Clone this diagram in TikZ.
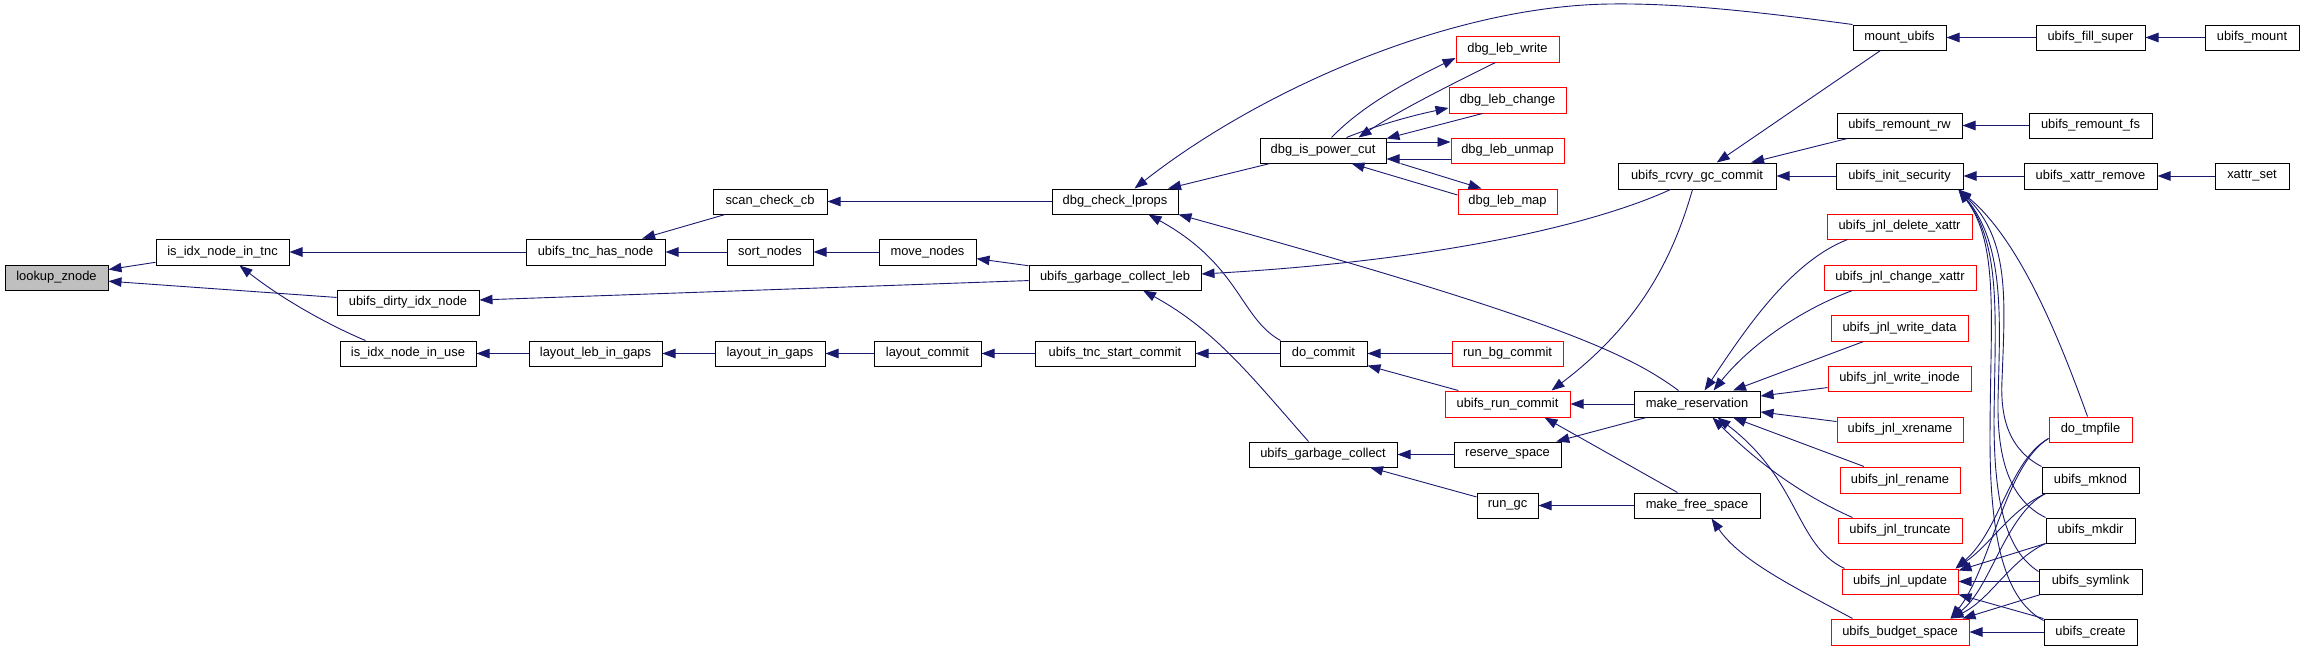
\documentclass[tikz,border=0pt]{standalone}
\usepackage{fontspec}
\newfontfamily\gfont{Liberation Sans}
\usetikzlibrary{arrows.meta}
\definecolor{edgeblue}{HTML}{191970}
\definecolor{rootgrey}{HTML}{BFBFBF}
\newcommand\gnode[7]{%
  \pgfmathsetmacro\gnx{(#3+#5)/2}\pgfmathsetmacro\gny{(#4+#6)/2}%
  \pgfmathsetmacro\gnw{#5-#3}\pgfmathsetmacro\gnh{#6-#4}%
  \node[#1,minimum width=\gnw pt,minimum height=\gnh pt] (#2) at (\gnx,\gny) {#7};}
\tikzset{
  box/.style={draw=black, fill=white, line width=1pt, inner sep=0pt,
    font=\gfont\fontsize{12.9}{14}\selectfont},
  redbox/.style={box, draw=red},
  rootbox/.style={box, fill=rootgrey},
  edge/.style={draw=edgeblue, line width=0.9pt, -{Triangle[length=13pt,width=9.5pt]}, fill=none},
}
\begin{document}
\begin{tikzpicture}[x=1pt,y=-1pt]
\useasboundingbox (0,0) rectangle (2304,651);
% nodes
\gnode{rootbox}{lookup}{5}{265}{108}{290}{lookup\_znode}
\gnode{box}{intnc}{156}{239}{289}{265}{is\_idx\_node\_in\_tnc}
\gnode{box}{dirty}{337}{290}{479}{315}{ubifs\_dirty\_idx\_node}
\gnode{box}{inuse}{340}{341}{476}{366}{is\_idx\_node\_in\_use}
\gnode{box}{has}{526}{239}{665}{265}{ubifs\_tnc\_has\_node}
\gnode{box}{llig}{529}{341}{662}{366}{layout\_leb\_in\_gaps}
\gnode{box}{scan}{713}{189}{827}{214}{scan\_check\_cb}
\gnode{box}{sort}{727}{239}{813}{265}{sort\_nodes}
\gnode{box}{move}{879}{239}{976}{265}{move\_nodes}
\gnode{box}{lig}{715}{341}{825}{366}{layout\_in\_gaps}
\gnode{box}{lcm}{874}{341}{981}{366}{layout\_commit}
\gnode{box}{dcl}{1052}{189}{1178}{214}{dbg\_check\_lprops}
\gnode{box}{gcl}{1029}{265}{1201}{290}{ubifs\_garbage\_collect\_leb}
\gnode{box}{tsc}{1035}{341}{1195}{366}{ubifs\_tnc\_start\_commit}
\gnode{box}{pc}{1260}{138}{1386}{163}{dbg\_is\_power\_cut}
\gnode{redbox}{lw}{1456}{36}{1559}{62}{dbg\_leb\_write}
\gnode{redbox}{lch}{1449}{87}{1566}{113}{dbg\_leb\_change}
\gnode{redbox}{lum}{1451}{138}{1564}{163}{dbg\_leb\_unmap}
\gnode{redbox}{lm}{1458}{189}{1557}{214}{dbg\_leb\_map}
\gnode{box}{dc}{1280}{341}{1367}{366}{do\_commit}
\gnode{redbox}{rbg}{1452}{341}{1563}{366}{run\_bg\_commit}
\gnode{redbox}{rc}{1445}{391}{1570}{417}{ubifs\_run\_commit}
\gnode{box}{gc}{1249}{442}{1397}{467}{ubifs\_garbage\_collect}
\gnode{box}{rs}{1454}{442}{1561}{467}{reserve\_space}
\gnode{box}{rgc}{1477}{493}{1538}{518}{run\_gc}
\gnode{box}{rcvry}{1618}{163}{1776}{189}{ubifs\_rcvry\_gc\_commit}
\gnode{box}{mr}{1634}{391}{1760}{417}{make\_reservation}
\gnode{box}{mfs}{1634}{493}{1760}{518}{make\_free\_space}
\gnode{box}{mount}{1853}{25}{1946}{50}{mount\_ubifs}
\gnode{box}{fs}{2036}{25}{2145}{50}{ubifs\_fill\_super}
\gnode{box}{um}{2205}{25}{2299}{50}{ubifs\_mount}
\gnode{box}{rrw}{1837}{113}{1962}{138}{ubifs\_remount\_rw}
\gnode{box}{rfs}{2029}{113}{2152}{138}{ubifs\_remount\_fs}
\gnode{box}{isec}{1836}{163}{1963}{189}{ubifs\_init\_security}
\gnode{box}{xr}{2024}{163}{2157}{189}{ubifs\_xattr\_remove}
\gnode{box}{xs}{2215}{163}{2289}{189}{xattr\_set}
\gnode{redbox}{dx}{1827}{214}{1972}{239}{ubifs\_jnl\_delete\_xattr}
\gnode{redbox}{cx}{1824}{265}{1976}{290}{ubifs\_jnl\_change\_xattr}
\gnode{redbox}{wd}{1831}{315}{1968}{341}{ubifs\_jnl\_write\_data}
\gnode{redbox}{wi}{1828}{366}{1971}{391}{ubifs\_jnl\_write\_inode}
\gnode{redbox}{xrn}{1837}{417}{1963}{442}{ubifs\_jnl\_xrename}
\gnode{redbox}{ren}{1840}{467}{1960}{493}{ubifs\_jnl\_rename}
\gnode{redbox}{tr}{1838}{518}{1962}{543}{ubifs\_jnl\_truncate}
\gnode{redbox}{up}{1842}{569}{1958}{594}{ubifs\_jnl\_update}
\gnode{redbox}{bs}{1831}{619}{1969}{645}{ubifs\_budget\_space}
\gnode{redbox}{tmp}{2049}{417}{2132}{442}{do\_tmpfile}
\gnode{box}{mknod}{2042}{467}{2139}{493}{ubifs\_mknod}
\gnode{box}{mkdir}{2046}{518}{2135}{543}{ubifs\_mkdir}
\gnode{box}{symlink}{2039}{569}{2142}{594}{ubifs\_symlink}
\gnode{box}{create}{2044}{619}{2137}{645}{ubifs\_create}
% edges (caller -> callee)
\draw[edge] (intnc) -- (lookup);
\draw[edge] (dirty) -- (lookup);
\draw[edge] (has) -- (intnc);
\draw[edge] ([xshift=26pt]inuse.north west) .. controls (340,330) and (290,305) .. ([xshift=84pt]intnc.south west);
\draw[edge] (gcl) -- (dirty);
\draw[edge] (llig) -- (inuse);
\draw[edge] (scan) -- (has);
\draw[edge] (sort) -- (has);
\draw[edge] (dcl) -- (scan);
\draw[edge] (move) -- (sort);
\draw[edge] (gcl) -- (move);
\draw[edge] (lig) -- (llig);
\draw[edge] (lcm) -- (lig);
\draw[edge] (tsc) -- (lcm);
\draw[edge] (dc) -- (tsc);
\draw[edge] (mount.north west) .. controls (1760,12) and (1680,3) .. (1610,4) .. controls (1450,6) and (1260,90) .. ([xshift=83pt]dcl.north west);
\draw[edge] (pc) -- (dcl);
\draw[edge] ([xshift=45pt]mr.north west) .. controls (1630,355) and (1560,320) .. (dcl.south east);
\draw[edge] ([xshift=1pt]dc.north west) .. controls (1240,318) and (1240,265) .. ([xshift=-30pt]dcl.south east);
\draw[edge] ([xshift=53pt]rcvry.south west) .. controls (1600,222) and (1450,260) .. ([yshift=3.5pt]gcl.east);
\draw[edge] ([xshift=60pt]gc.north west) .. controls (1250,375) and (1215,330) .. ([xshift=28pt]gcl.south);
% power cut cycle
\draw[edge] ([xshift=72pt]pc.north west) .. controls (1360,108) and (1400,85) .. ([yshift=-9pt]lw.west);
\draw[edge] ([xshift=40pt]lw.south west) .. controls (1450,85) and (1400,110) .. ([xshift=-28pt]pc.north east);
\draw[edge] ([xshift=87pt]pc.north west) .. controls (1370,128) and (1405,117) .. ([yshift=-8pt]lch.west);
\draw[edge] ([xshift=34pt]lch.south west) -- ([yshift=-1pt]pc.north east);
\draw[edge] ([yshift=8.5pt]pc.east) -- ([yshift=8.5pt]lum.west);
\draw[edge] ([yshift=-8.5pt]lum.west) -- ([yshift=-8.5pt]pc.east);
\draw[edge] ([xshift=14pt]pc.south east) -- ([xshift=24pt]lm.north west);
\draw[edge] ([yshift=6.5pt]lm.west) -- ([xshift=92pt]pc.south west);
% commit
\draw[edge] (rbg) -- (dc);
\draw[edge] (rc) -- (dc);
\draw[edge] ([xshift=75pt]rcvry.south west) .. controls (1675,250) and (1645,320) .. ([xshift=-19pt]rc.north east);
\draw[edge] (mr) -- (rc);
\draw[edge] ([xshift=44pt]mfs.north west) -- ([xshift=-26pt]rc.south east);
\draw[edge] (rs) -- (gc);
\draw[edge] (rgc) -- (gc);
\draw[edge] (mr) -- (rs);
\draw[edge] (mfs) -- (rgc);
\draw[edge] ([xshift=22pt]bs.north west) .. controls (1790,585) and (1740,560) .. ([xshift=78pt]mfs.south west);
% top right
\draw[edge] (fs) -- (mount);
\draw[edge] (um) -- (fs);
\draw[edge] (mount) -- (rcvry);
\draw[edge] (rrw) -- (rcvry);
\draw[edge] (isec) -- (rcvry);
\draw[edge] (rfs) -- (rrw);
\draw[edge] (xr) -- (isec);
\draw[edge] (xs) -- (xr);
% init_security fan
\draw[edge] ([xshift=39pt]tmp.north west) .. controls (2060,340) and (2020,240) .. ([xshift=-5pt]isec.south east);
\draw[edge] (mknod.north west) .. controls (2010,450) and (2000,420) .. (2002,380) .. controls (2005,300) and (2010,240) .. ([xshift=-5pt]isec.south east);
\draw[edge] (mkdir.north west) .. controls (2010,500) and (1997,460) .. (1998,400) .. controls (2000,320) and (2005,245) .. ([xshift=-5pt]isec.south east);
\draw[edge] ([yshift=-3pt]symlink.north west) .. controls (2005,550) and (1994,500) .. (1994,420) .. controls (1995,320) and (2002,245) .. ([xshift=-5pt]isec.south east);
\draw[edge] ([yshift=-2pt]create.north west) .. controls (2005,600) and (1990,540) .. (1990,440) .. controls (1990,320) and (2000,245) .. ([xshift=-5pt]isec.south east);
% make_reservation callers
\draw[edge] ([xshift=21pt]dx.south west) .. controls (1790,262) and (1745,330) .. ([xshift=71pt]mr.north west);
\draw[edge] ([xshift=29pt]cx.south west) .. controls (1800,310) and (1750,345) .. ([xshift=80pt]mr.north west);
\draw[edge] (wd) -- (mr);
\draw[edge] (wi) -- (mr);
\draw[edge] (xrn) -- (mr);
\draw[edge] (ren) -- (mr);
\draw[edge] ([xshift=15pt]tr.north west) .. controls (1790,490) and (1745,450) .. ([xshift=79pt]mr.south west);
\draw[edge] ([xshift=3pt]up.north west) .. controls (1795,545) and (1800,480) .. ([xshift=84pt]mr.south west);
% update / budget callers
\draw[edge] ([yshift=4pt]tmp.south west) .. controls (2010,460) and (2000,530) .. ([xshift=-3pt]up.north east);
\draw[edge] ([yshift=4pt]tmp.south west) .. controls (2005,465) and (1990,570) .. ([xshift=-19pt]bs.north east);
\draw[edge] ([xshift=4pt]mknod.south west) .. controls (2010,510) and (1990,545) .. ([xshift=-3pt]up.north east);
\draw[edge] ([xshift=4pt]mknod.south west) .. controls (2005,515) and (1990,590) .. ([xshift=-19pt]bs.north east);
\draw[edge] (mkdir.south west) -- ([yshift=-2pt]up.north east);
\draw[edge] (mkdir.south west) .. controls (2010,560) and (1990,600) .. ([xshift=-19pt]bs.north east);
\draw[edge] (symlink) -- (up);
\draw[edge] ([xshift=2pt]symlink.south west) -- ([xshift=-7pt]bs.north east);
\draw[edge] (create.north west) -- (up.south east);
\draw[edge] (create) -- (bs);
\end{tikzpicture}
\end{document}
